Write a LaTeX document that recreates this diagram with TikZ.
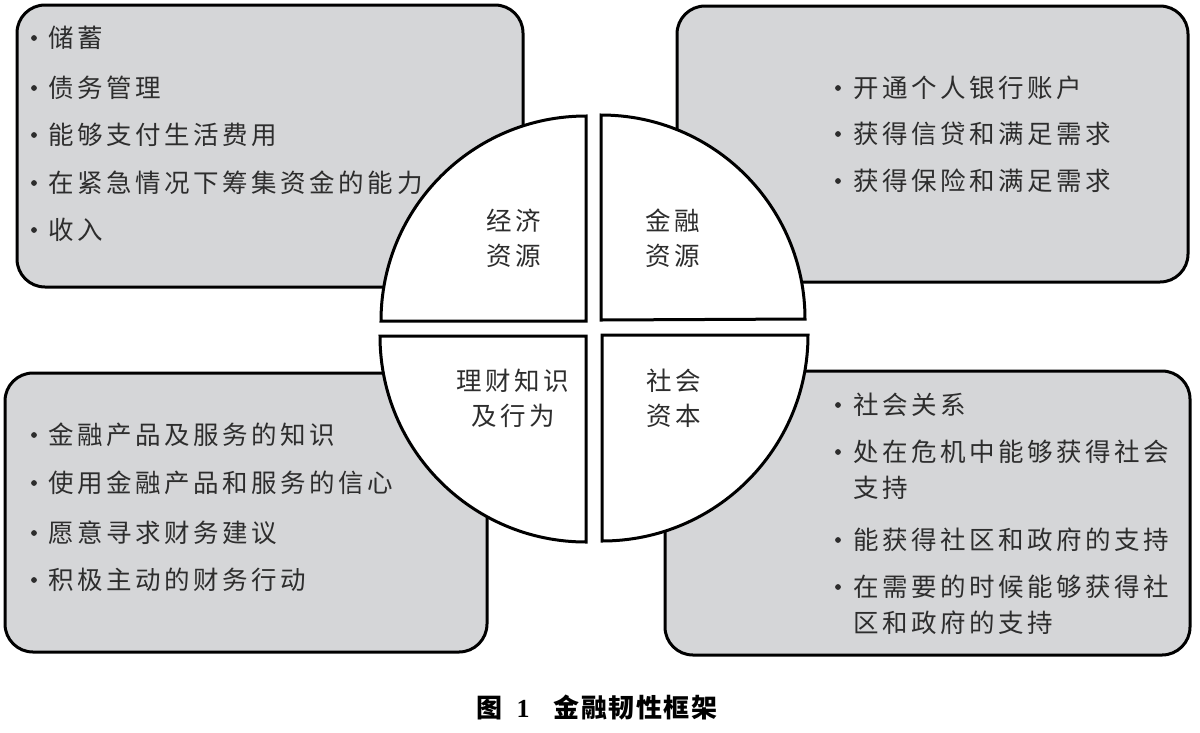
\documentclass[tikz,border=0pt]{standalone}
\usepackage{fontspec}
\newfontfamily\cjk[LetterSpace=14]{Noto Sans CJK SC}
\newfontfamily\cjkcap[LetterSpace=6]{Noto Sans CJK SC}
\newfontfamily\capnum{Liberation Serif}
\definecolor{boxgray}{RGB}{213,214,216}
\definecolor{txt}{RGB}{45,45,45}
\begin{document}
\begin{tikzpicture}[x=1pt,y=1pt,
  panel/.style={draw=black, line width=3pt, fill=boxgray, rounded corners=28pt, inner sep=0pt},
  quad/.style={draw=black, line width=3pt, fill=white, line join=miter},
  itemtext/.style={anchor=west, inner sep=0pt, text=txt, font=\cjk\fontsize{25.5pt}{30pt}\selectfont},
  quadlabel/.style={align=center, inner sep=0pt, text=txt, font=\cjk\fontsize{25.5pt}{35pt}\selectfont},
  bul/.style={fill=txt}]
\useasboundingbox (0,0) rectangle (1200,-732);
\fill[white] (0,0) rectangle (1200,-732);

% panels
\node[panel, minimum width=506pt, minimum height=282pt] (boxTL) at (270,-146) {};
\node[panel, minimum width=511pt, minimum height=276pt] (boxTR) at (932.5,-144) {};
\node[panel, minimum width=482pt, minimum height=279pt] (boxBL) at (246,-512.5) {};
\node[panel, minimum width=525pt, minimum height=284pt] (boxBR) at (927.5,-513) {};

% quadrants
\draw[quad] (586,-321) -- (381,-321) arc[start angle=180, end angle=90, radius=205] -- cycle;
\draw[quad] (601,-320) -- (601,-115) arc[start angle=90, end angle=0, radius=204] -- cycle;
\draw[quad] (586,-336) -- (380,-336) arc[start angle=180, end angle=270, radius=206] -- cycle;
\draw[quad] (602,-335) -- (602,-541) arc[start angle=270, end angle=360, radius=206] -- cycle;

% quadrant labels
\node[quadlabel] (qTL) at (514,-238) {经济\\资源};
\node[quadlabel] (qTR) at (673,-238) {金融\\资源};
\node[quadlabel] (qBL) at (513,-398) {理财知识\\及行为};
\node[quadlabel] (qBR) at (674,-398) {社会\\资本};

% top-left list
\foreach \y/\t [count=\i] in {38/储蓄, 88/债务管理, 135/能够支付生活费用, 183/在紧急情况下筹集资金的能力, 230/收入}{
  \fill[bul] (34,-\y) circle (2.9pt);
  \node[itemtext] (tl\i) at (48,-\y) {\t};
}
% top-right list
\foreach \y/\t [count=\i] in {88/开通个人银行账户, 134/获得信贷和满足需求, 181/获得保险和满足需求}{
  \fill[bul] (838,-\y) circle (2.9pt);
  \node[itemtext] (tr\i) at (853,-\y) {\t};
}
% bottom-left list
\foreach \y/\t [count=\i] in {435/金融产品及服务的知识, 483/使用金融产品和服务的信心, 533/愿意寻求财务建议, 580/积极主动的财务行动}{
  \fill[bul] (34,-\y) circle (2.9pt);
  \node[itemtext] (bl\i) at (48,-\y) {\t};
}
% bottom-right list
\foreach \y in {405, 452, 540, 587}{
  \fill[bul] (838,-\y) circle (2.9pt);
}
\node[itemtext] (br1) at (853,-405) {社会关系};
\node[itemtext] (br2) at (853,-452) {处在危机中能够获得社会};
\node[itemtext] (br2b) at (853,-488) {支持};
\node[itemtext] (br3) at (853,-540) {能获得社区和政府的支持};
\node[itemtext] (br4) at (853,-587) {在需要的时候能够获得社};
\node[itemtext] (br4b) at (853,-623) {区和政府的支持};

% caption
\node[inner sep=0pt, text=black, font=\cjkcap\bfseries\fontsize{26pt}{30pt}\selectfont] (cap) at (597,-708)
  {图\hspace{14pt}{\capnum\bfseries 1}\hspace{24pt}金融韧性框架};
\end{tikzpicture}
\end{document}
